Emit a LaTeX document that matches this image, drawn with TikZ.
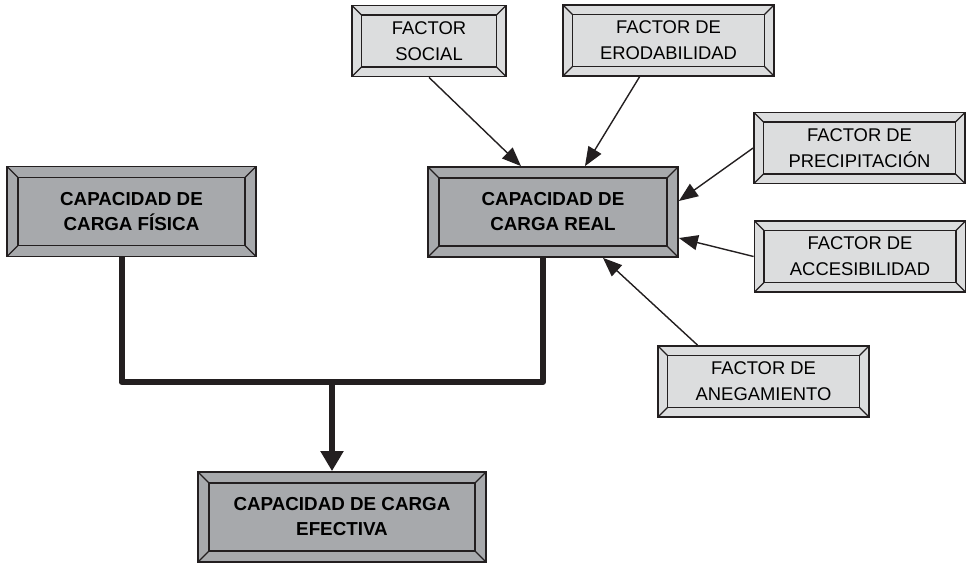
\documentclass[tikz,border=0pt]{standalone}
\usepackage{fontspec}
\setmainfont{Liberation Sans}
\usetikzlibrary{arrows.meta}
\definecolor{ink}{HTML}{231F20}
\definecolor{boxdark}{HTML}{A7A9AC}
\definecolor{boxlight}{HTML}{DCDDDE}
\tikzset{>={Triangle[length=19pt,width=15pt]}}
\tikzset{
  bevel/.style={draw=ink, line width=1.8pt, fill=#1, inner sep=0pt, align=center,
    path picture={
      \draw[ink, line width=1.3pt]
        ([shift={(\bevd,-\bevd)}]path picture bounding box.north west) rectangle
        ([shift={(-\bevd,\bevd)}]path picture bounding box.south east);
      \draw[ink, line width=1.3pt]
        (path picture bounding box.north west) -- ++(\bevd,-\bevd)
        (path picture bounding box.north east) -- ++(-\bevd,-\bevd)
        (path picture bounding box.south west) -- ++(\bevd,\bevd)
        (path picture bounding box.south east) -- ++(-\bevd,\bevd);
    }},
  bigbox/.style={bevel=boxdark, /utils/exec={\def\bevd{11pt}},
    minimum height=90pt, font=\fontsize{18.8}{25}\selectfont\bfseries},
  factorbox/.style={bevel=boxlight, /utils/exec={\def\bevd{9.5pt}},
    minimum width=211pt, minimum height=71pt, font=\fontsize{18.4}{26}\selectfont},
  feed/.style={->, ink, line width=1.4pt},
  trunk/.style={ink, line width=6pt, line join=round},
}

\begin{document}
\begin{tikzpicture}[x=1pt, y=-1pt]
      \useasboundingbox (0,0) rectangle (966,563);
      % nodes
      \node[bigbox, minimum width=249pt] (fisica) at (131.5,211.5) {CAPACIDAD DE\\CARGA FÍSICA};
      \node[bigbox, minimum width=250pt] (real) at (553,212) {CAPACIDAD DE\\CARGA REAL};
      \node[bigbox, minimum width=288pt] (efectiva) at (342,517) {CAPACIDAD DE CARGA\\EFECTIVA};
      \node[factorbox, minimum width=154pt] (social) at (429,41) {FACTOR\\SOCIAL};
      \node[factorbox] (erod) at (668.5,40.5) {FACTOR DE\\ERODABILIDAD};
      \node[factorbox] (precip) at (859.5,148) {FACTOR DE\\PRECIPITACIÓN};
      \node[factorbox] (acces) at (860,256.5) {FACTOR DE\\ACCESIBILIDAD};
      \node[factorbox] (aneg) at (763.5,381.5) {FACTOR DE\\ANEGAMIENTO};
      \coordinate (join) at (332,382);
      % factors
      \draw[feed] (social.south) -- ([xshift=-32pt]real.north);
      \draw[feed] ([xshift=-29pt]erod.south) -- ([xshift=32pt]real.north);
      \draw[feed] (precip.west) -- ([yshift=11pt]real.east);
      \draw[feed] (acces.west) -- ([yshift=-26pt]real.east);
      \draw[feed] ([xshift=-66pt]aneg.north) -- ([xshift=50pt]real.south);
      % result
      \draw[trunk] ([xshift=-10pt]fisica.south) |- (join) -| ([xshift=-10pt]real.south);
      \draw[trunk, -{Triangle[length=20pt,width=22pt]}] (join) -- (join |- efectiva.north);
\end{tikzpicture}
\end{document}
